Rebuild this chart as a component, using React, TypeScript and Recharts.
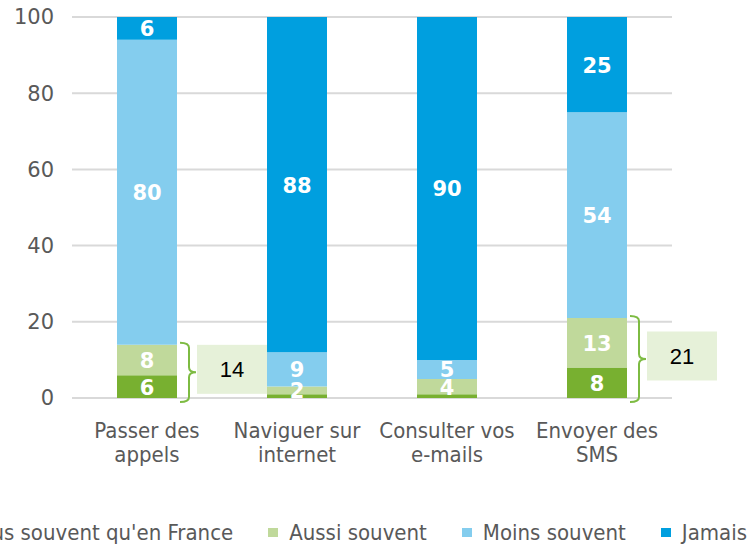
import React from 'react';
import { BarChart, Bar, XAxis, YAxis, CartesianGrid, Legend, LabelList } from 'recharts';

const categories = ['Passer des appels', 'Naviguer sur internet', 'Consulter vos e-mails', 'Envoyer des SMS'];
const categoryLines = [
  ['Passer des', 'appels'],
  ['Naviguer sur', 'internet'],
  ['Consulter vos', 'e-mails'],
  ['Envoyer des', 'SMS'],
];
const plusSouvent = [6, 1, 1, 8];
const aussiSouvent = [8, 2, 4, 13];
const moinsSouvent = [80, 9, 5, 54];
const jamais = [6, 88, 90, 25];
// totals shown in the bracketed boxes (plus + aussi)
const bracketTotals = [14, null, null, 21];
const yTicks = [0, 20, 40, 60, 80, 100];

const seriesNames = ["Plus souvent qu'en France", 'Aussi souvent', 'Moins souvent', 'Jamais'];
const colors = ['#78B030', '#C0D99B', '#84CDEE', '#009FDF'];

const data = categories.map((name, i) => ({
  name,
  plus: plusSouvent[i],
  aussi: aussiSouvent[i],
  moins: moinsSouvent[i],
  jamais: jamais[i],
  bracket: bracketTotals[i],
}));

const labelFont = "'DejaVu Sans', Verdana, sans-serif";
const textFont = "'DejaVu Sans Condensed', 'DejaVu Sans', sans-serif";

const SegmentLabel = (props: any) => {
  const { x, y, width, height, value } = props;
  if (value == null || value < 2) return null;
  return (
    <text
      x={x + width / 2}
      y={y + height / 2}
      dy={8}
      textAnchor="middle"
      fill="#fff"
      fontFamily={labelFont}
      fontWeight="bold"
      fontSize={21}
    >
      {value}
    </text>
  );
};

const Bracket = (props: any) => {
  const { x, y, width, height, index } = props;
  const total = bracketTotals[index];
  if (total == null) return null;
  const perUnit = height / aussiSouvent[index];
  const top = y - 2;
  const bottom = y + height + plusSouvent[index] * perUnit + 4;
  const mid = (top + bottom) / 2;
  const x0 = x + width + 3;
  const xv = x + width + 12;
  const xt = x + width + 19;
  const r = 5;
  const path = `M${x0},${top} Q${xv},${top} ${xv},${top + r} L${xv},${mid - r} Q${xv},${mid} ${xt},${mid} Q${xv},${mid} ${xv},${mid + r} L${xv},${bottom - r} Q${xv},${bottom} ${x0},${bottom}`;
  const bw = 70;
  const bh = 49;
  const bx = xt + 1;
  const by = mid - 3 - bh / 2;
  return (
    <g>
      <path d={path} fill="none" stroke="#7DBB42" strokeWidth={2} />
      <rect x={bx} y={by} width={bw} height={bh} fill="#E6F1D9" />
      <text
        x={bx + bw / 2}
        y={by + bh / 2}
        dy={8}
        textAnchor="middle"
        fill="#000"
        fontFamily="'Liberation Sans', Arial, sans-serif"
        fontSize={22}
      >
        {total}
      </text>
    </g>
  );
};

const CategoryTick = (props: any) => {
  const { x, y, index } = props;
  const lines = categoryLines[index] || [];
  return (
    <text x={x} y={y} textAnchor="middle" fill="#595959" fontFamily={textFont} fontSize={22}>
      {lines.map((l, i) => (
        <tspan key={i} x={x} dy={i === 0 ? 32 : 24}>
          {l}
        </tspan>
      ))}
    </text>
  );
};

const renderLegend = () => (
  <div
    style={{
      display: 'flex',
      justifyContent: 'center',
      alignItems: 'center',
      gap: 35,
      height: 30,
      paddingTop: 4,
      boxSizing: 'border-box',
      fontFamily: textFont,
      fontSize: 22,
      color: '#595959',
      whiteSpace: 'nowrap',
    }}
  >
    {seriesNames.map((n, i) => (
      <span key={n} style={{ display: 'flex', alignItems: 'center', gap: 11 }}>
        <span style={{ width: 10, height: 9, background: colors[i], display: 'inline-block' }} />
        {n}
      </span>
    ))}
  </div>
);

export default function App() {
  return (
    <div style={{ position: 'fixed', left: 0, top: 0, width: 753, height: 545, overflow: 'hidden', background: '#fff' }}>
      <BarChart width={753} height={545} data={data} margin={{ top: 17, right: 81, left: 12, bottom: 0 }} barSize={60}>
        <CartesianGrid vertical={false} stroke="#D9D9D9" strokeWidth={2} />
        <XAxis dataKey="name" axisLine={false} tickLine={false} tick={<CategoryTick />} height={117} interval={0} />
        <YAxis
          domain={[0, 100]}
          ticks={yTicks}
          axisLine={false}
          tickLine={false}
          width={60}
          tickMargin={12}
          tick={{ fill: '#595959', fontSize: 21, fontFamily: labelFont }}
        />
        <Legend
          verticalAlign="bottom"
          content={renderLegend}
          wrapperStyle={{ left: -450, width: 1600, height: 30, bottom: 0 }}
        />
        <Bar dataKey="plus" stackId="a" fill={colors[0]} isAnimationActive={false}>
          <LabelList dataKey="plus" content={SegmentLabel} />
        </Bar>
        <Bar dataKey="aussi" stackId="a" fill={colors[1]} isAnimationActive={false}>
          <LabelList dataKey="aussi" content={SegmentLabel} />
          <LabelList dataKey="bracket" content={Bracket} />
        </Bar>
        <Bar dataKey="moins" stackId="a" fill={colors[2]} isAnimationActive={false}>
          <LabelList dataKey="moins" content={SegmentLabel} />
        </Bar>
        <Bar dataKey="jamais" stackId="a" fill={colors[3]} isAnimationActive={false}>
          <LabelList dataKey="jamais" content={SegmentLabel} />
        </Bar>
      </BarChart>
    </div>
  );
}
